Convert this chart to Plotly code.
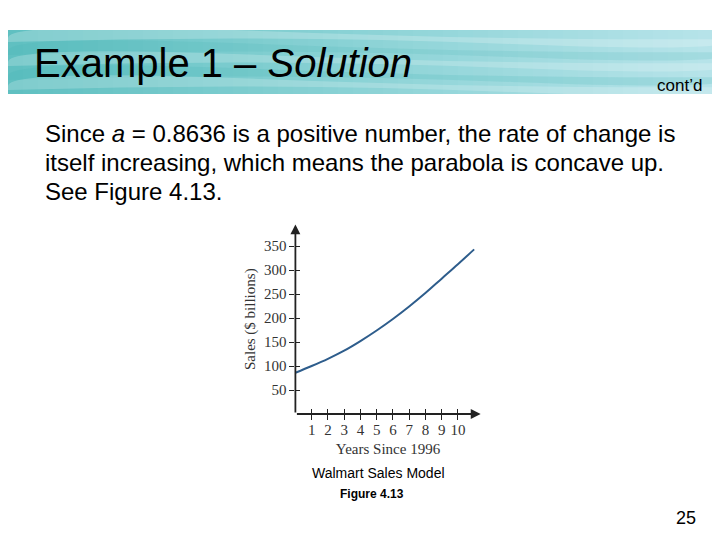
import plotly.graph_objects as go

# ---- data ----
years_since_1996 = [0, 1, 2, 3, 4, 5, 6, 7, 8, 9, 10, 11]
sales_billions = [86, 100, 115, 132, 152, 174, 198, 224, 252, 282, 312, 343]
x_tick_vals = [1, 2, 3, 4, 5, 6, 7, 8, 9, 10]
y_tick_vals = [50, 100, 150, 200, 250, 300, 350]
body_lines = [
    "Since <i>a</i> = 0.8636 is a positive number, the rate of change is",
    "itself increasing, which means the parabola is concave up.",
    "See Figure 4.13.",
]

W, H = 720, 540
OFF = 8  # page body margin
def px(x):
    return (x - OFF) / W
def py(y):
    return (H - (y - OFF)) / H

SANS = "Liberation Sans, Arial, sans-serif"
SERIF = "Liberation Serif, Times New Roman, serif"

X_MAX, Y_MAX = 11.4, 395
xdom = [px(295.4), px(295.4 + 16.25 * X_MAX)]
ydom = [py(414), py(414 - 0.48 * Y_MAX)]

fig = go.Figure()
fig.add_trace(go.Scatter(
    x=years_since_1996, y=sales_billions, mode="lines",
    line=dict(color="#2e5d8c", width=2, shape="spline"),
    hoverinfo="skip", showlegend=False))
fig.add_trace(go.Scatter(x=[], y=[], xaxis="x2", yaxis="y2", showlegend=False))

axis_common = dict(showgrid=False, zeroline=False, showline=False,
                   tickcolor="#222", tickwidth=1.3, ticklen=5)
tfont = dict(family=SERIF, size=15, color="#333")
fig.update_layout(
    width=W, height=H, margin=dict(l=0, r=0, t=0, b=0),
    paper_bgcolor="white", plot_bgcolor="rgba(0,0,0,0)",
    xaxis=dict(domain=xdom, range=[0, X_MAX], tickvals=x_tick_vals, ticks="inside",
               tickfont=tfont, ticklabelstandoff=5,
               title=dict(text="Years Since 1996", standoff=6, font=tfont),
               anchor="y", **axis_common),
    yaxis=dict(domain=ydom, range=[0, Y_MAX], tickvals=y_tick_vals, ticks="outside",
               tickfont=tfont,
               title=dict(text="Sales ($ billions)", standoff=4, font=tfont),
               anchor="x", **axis_common),
    xaxis2=dict(domain=xdom, range=[0, X_MAX], tickvals=x_tick_vals, ticks="outside",
                showticklabels=False, overlaying="x", anchor="y2", side="bottom", **axis_common),
    yaxis2=dict(domain=ydom, range=[0, Y_MAX], tickvals=y_tick_vals, ticks="inside",
                showticklabels=False, overlaying="y", anchor="x2", side="left", **axis_common),
)

# ---- header band (horizontal gradient made of stripes) ----
def lerp(c1, c2, t):
    return "rgb(%d,%d,%d)" % tuple(round(a + (b - a) * t) for a, b in zip(c1, c2))

left_c, mid_c, right_c = (96, 192, 193), (140, 211, 214), (184, 228, 234)
n = 48
shapes = []
for i in range(n):
    t = i / (n - 1)
    col = lerp(left_c, mid_c, t * 2) if t < 0.5 else lerp(mid_c, right_c, (t - 0.5) * 2)
    shapes.append(dict(type="rect", xref="paper", yref="paper",
                       x0=i / n, x1=(i + 1) / n + 0.002, y0=py(94), y1=py(30),
                       fillcolor=col, line=dict(width=0), layer="below"))
# soft streaks
for (yy, op, c) in [(42, 0.22, "white"), (55, 0.15, "#3fb0b0"), (66, 0.2, "white"),
                    (80, 0.18, "#3fb0b0"), (90, 0.2, "white")]:
    shapes.append(dict(type="path", xref="paper", yref="paper",
                       path="M 0,%f Q 0.35,%f 0.7,%f T 1,%f L 1,%f Q 0.7,%f 0.35,%f T 0,%f Z" % (
                           py(yy), py(yy - 8), py(yy + 2), py(yy - 6),
                           py(yy - 3), py(yy - 1), py(yy - 11), py(yy - 4)),
                       fillcolor=c, opacity=op, line=dict(width=0), layer="below"))
fig.update_layout(shapes=shapes)

ann = []
ann.append(dict(x=X_MAX, y=0, ax=0, ay=0, xref="x", yref="y", axref="x", ayref="y",
                showarrow=True, arrowhead=2, arrowsize=1.1, arrowwidth=1.8,
                arrowcolor="#222", text=""))
ann.append(dict(x=0, y=Y_MAX, ax=0, ay=0, xref="x", yref="y", axref="x", ayref="y",
                showarrow=True, arrowhead=2, arrowsize=1.1, arrowwidth=1.8,
                arrowcolor="#222", text=""))
ann.append(dict(x=px(32), y=py(63), xref="paper", yref="paper", xanchor="left", yanchor="middle",
                showarrow=False, text="Example 1 – <i>Solution</i>",
                font=dict(family=SANS, size=40, color="#000")))
ann.append(dict(x=px(704), y=py(85), xref="paper", yref="paper", xanchor="right", yanchor="middle",
                showarrow=False, text="cont’d", font=dict(family=SANS, size=17, color="#000")))
for i, line in enumerate(body_lines):
    ann.append(dict(x=px(43), y=py(142 + 29 * i - 8.4), xref="paper", yref="paper",
                    xanchor="left", yanchor="middle", showarrow=False, align="left",
                    text=line, font=dict(family=SANS, size=24, color="#000")))
ann.append(dict(x=px(379), y=py(473), xref="paper", yref="paper", xanchor="center", yanchor="middle",
                showarrow=False, text="Walmart Sales Model",
                font=dict(family=SANS, size=14, color="#000")))
ann.append(dict(x=px(372), y=py(494), xref="paper", yref="paper", xanchor="center", yanchor="middle",
                showarrow=False, text="<b>Figure 4.13</b>",
                font=dict(family=SANS, size=12, color="#000")))
ann.append(dict(x=px(686), y=py(517.5), xref="paper", yref="paper", xanchor="center", yanchor="middle",
                showarrow=False, text="25", font=dict(family=SANS, size=18, color="#000")))
fig.update_layout(annotations=ann)

fig.write_html("out.html")
